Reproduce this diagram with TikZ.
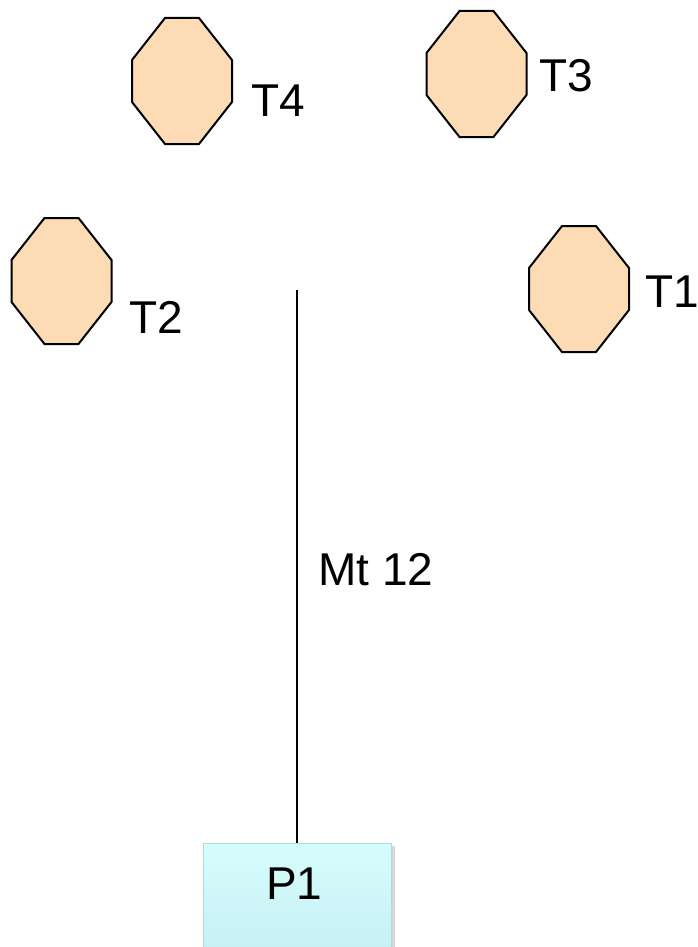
\documentclass[tikz,border=0pt]{standalone}
\usepackage{fontspec}
\setmainfont{Liberation Sans}
\usetikzlibrary{calc}
\definecolor{peach}{HTML}{FDDBB5}
\definecolor{boxtop}{HTML}{D6FDFE}
\definecolor{boxbot}{HTML}{C0EAEE}
\definecolor{boxedge}{HTML}{B4D8DC}
\tikzset{
  octbox/.style={minimum width=100pt, minimum height=126pt, inner sep=0pt},
  octline/.style={draw=black, line width=2pt, fill=peach, line join=miter},
  lbl/.style={font=\fontsize{46}{50}\selectfont, inner sep=0pt, anchor=base west},
  conn/.style={draw=black, line width=1.5pt},
  pbox/.style={draw=boxedge, line width=1pt, top color=boxtop, bottom color=boxbot},
}
\newcommand\myocta[3]{%
  \node[octbox] (#1) at (#2,#3) {};
  \draw[octline, shift={(#1.center)}] (-17,-63) -- (17,-63) -- (50,-21) -- (50,21) -- (17,63) -- (-17,63) -- (-50,21) -- (-50,-21) -- cycle;
}
\begin{document}
\begin{tikzpicture}[x=1pt, y=-1pt]
\useasboundingbox (0,0) rectangle (698,947);
\fill[white] (0,0) rectangle (698,947);
\clip (0,0) rectangle (698,947);

\myocta{T4}{182}{81}
\myocta{T3}{476.5}{74}
\myocta{T2}{61.5}{281}
\myocta{T1}{579}{289}

\node[lbl] (T4l) at (251,117) {T4};
\node[lbl] (T3l) at (539,92) {T3};
\node[lbl] (T2l) at (129,333) {T2};
\node[lbl] (T1l) at (645,307) {T1};

% P1 box
\fill[black!25, opacity=0.6] (204,846) rectangle (395,1000);
\node[pbox, minimum width=188pt, minimum height=160pt, inner sep=0pt, anchor=north west] (P1) at (203,843) {};
\node[lbl] (P1l) at (266,899) {P1};

\coordinate (top) at (297,290);
\draw[conn] (top) -- (top |- P1.north);
\node[lbl] (mt) at (318,585) {Mt 12};
\end{tikzpicture}
\end{document}
